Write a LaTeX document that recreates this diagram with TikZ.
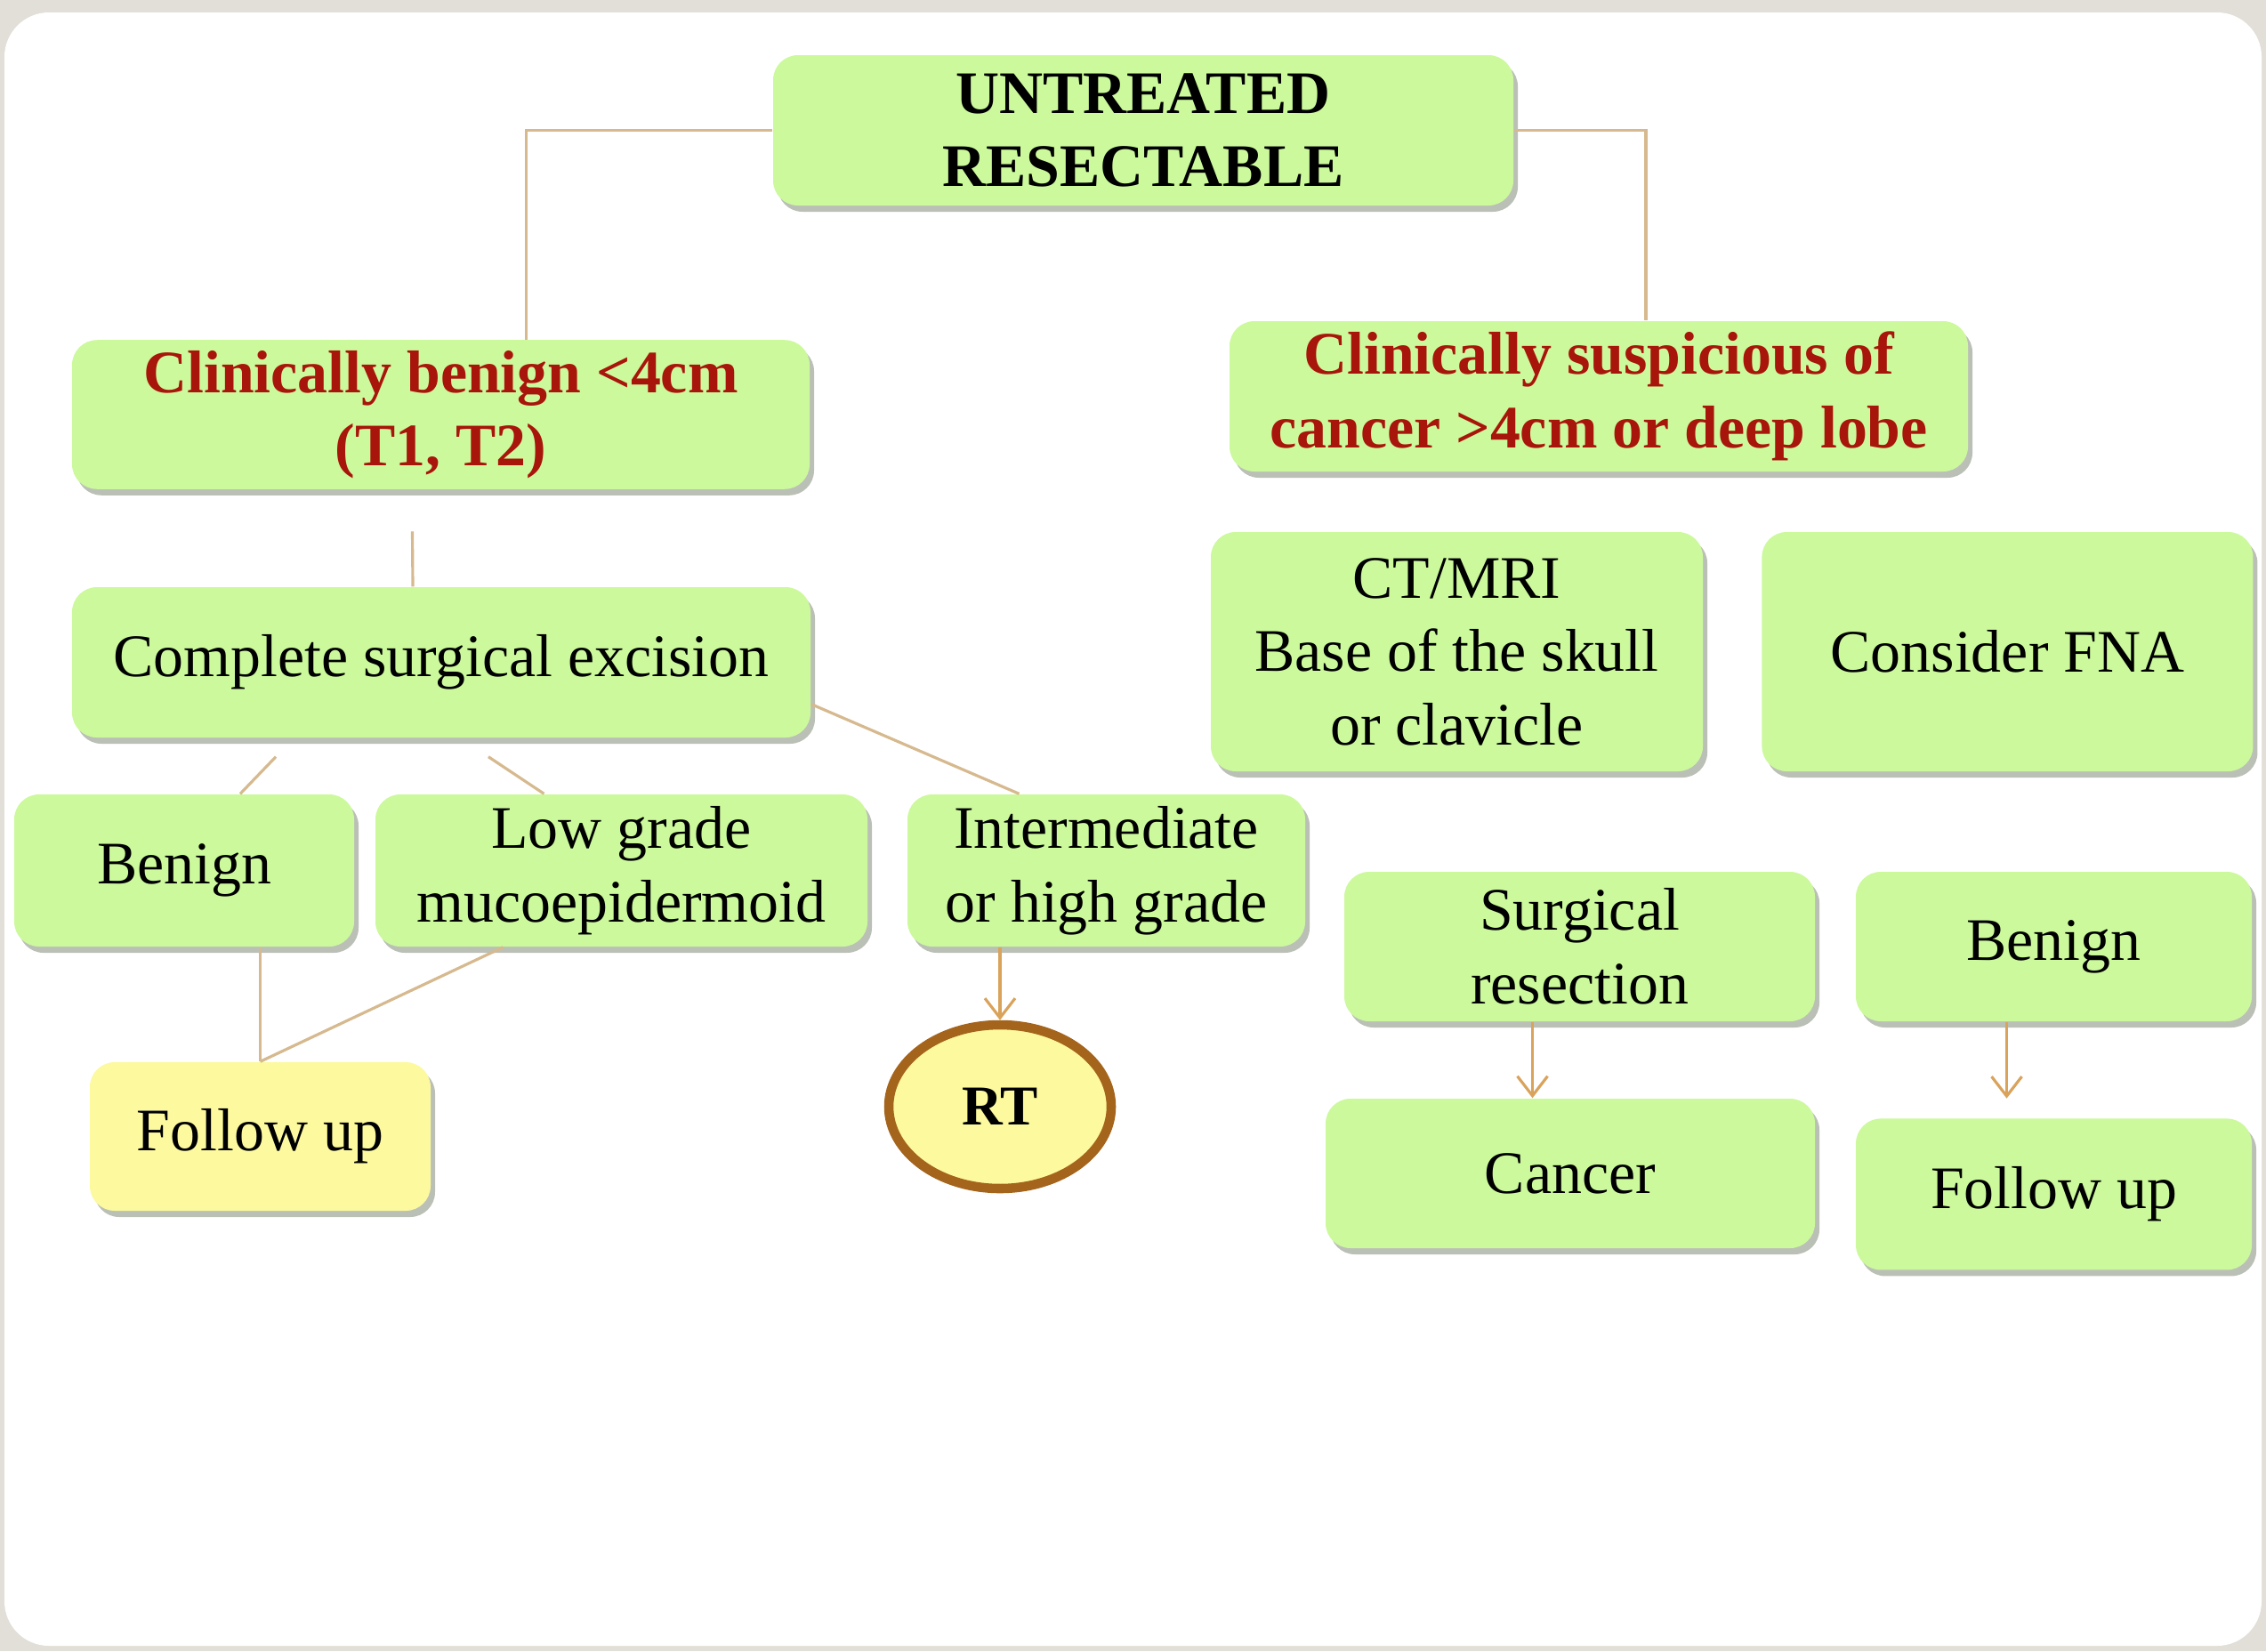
\documentclass[tikz,border=0pt]{standalone}
\usepackage{fontspec}
\setmainfont{Liberation Serif}
\usetikzlibrary{arrows.meta,positioning,shapes.geometric,shadows,calc}
\definecolor{flowGreen}{HTML}{CCF99C}
\definecolor{flowYellow}{HTML}{FCF99E}
\definecolor{flowRed}{HTML}{A8150A}
\definecolor{flowLink}{HTML}{D6B98E}
\definecolor{flowArrow}{HTML}{D9A35C}
\definecolor{flowRing}{HTML}{A4641C}
\definecolor{flowFrame}{HTML}{E2DFD8}
\tikzset{
  flow/base/.style={fill=flowGreen, rounded corners=0.28cm, align=center,
    font=\fontsize{19.3}{23.5}\selectfont, text=black,
    drop shadow={shadow xshift=0.05cm, shadow yshift=-0.07cm, opacity=0.35,
      fill=black!70!flowGreen}},
  flow/title/.style={flow/base, font=\fontsize{19.3}{23.5}\selectfont\bfseries},
  flow/branch/.style={flow/title, text=flowRed},
  flow/result/.style={flow/base, fill=flowYellow},
  flow/ring/.style={ellipse, draw=flowRing, line width=3pt, fill=flowYellow,
    minimum width=2.5cm, minimum height=1.84cm, inner sep=0pt,
    font=\fontsize{18}{22}\selectfont\bfseries},
  flow/link/.style={draw=flowLink, line width=0.9pt},
  flow/arrow/.style={-{Straight Barb[length=2.2mm,width=3.4mm]},
    draw=flowArrow, line width=0.9pt},
}

\begin{document}
\begin{tikzpicture}
% slide frame
\useasboundingbox (0,0) rectangle (25.47,-18.56);
\fill[flowFrame] (0,0) rectangle (25.47,-18.56);
\fill[white, rounded corners=0.5cm] (0.05,-0.14) rectangle (25.42,-18.5);

\node[flow/title, minimum width=8.32cm, minimum height=1.69cm] (untreated)
  at (12.85,-1.465) {UNTREATED\\RESECTABLE};
\node[flow/branch, minimum width=8.29cm, minimum height=1.66cm] (benign)
  at (4.955,-4.66) {Clinically benign <4cm\\(T1, T2)};
\node[flow/branch, minimum width=8.30cm, minimum height=1.69cm] (suspicious)
  at (17.97,-4.455) {Clinically suspicious of\\cancer >4cm or deep lobe};
\node[flow/base, minimum width=8.30cm, minimum height=1.69cm] (excision)
  at (4.96,-7.445) {Complete surgical excision};
\node[flow/base, minimum width=5.53cm, minimum height=2.69cm] (imaging)
  at (16.375,-7.325) {CT/MRI\\Base of the skull\\or clavicle};
\node[flow/base, minimum width=5.52cm, minimum height=2.69cm,
  right=0.65cm of imaging] (fna) {Consider FNA};
\node[flow/base, minimum width=3.82cm, minimum height=1.71cm] (benignL)
  at (2.07,-9.785) {Benign};
\node[flow/base, minimum width=5.53cm, minimum height=1.71cm] (lowgrade)
  at (6.985,-9.785) {Low grade\\mucoepidermoid};
\node[flow/base, minimum width=4.47cm, minimum height=1.71cm] (highgrade)
  at (12.435,-9.785) {Intermediate\\or high grade};
\node[flow/result, minimum width=3.83cm, minimum height=1.67cm] (followL)
  at (2.925,-12.775) {Follow up};
\node[flow/ring] (rt) at (11.24,-12.44) {RT};
\node[flow/base, minimum width=5.29cm, minimum height=1.68cm] (resection)
  at (17.755,-10.64) {Surgical\\resection};
\node[flow/base, minimum width=4.45cm, minimum height=1.68cm] (benignR)
  at (23.085,-10.64) {Benign};
\node[flow/base, minimum width=5.50cm, minimum height=1.68cm] (cancer)
  at (17.65,-13.19) {Cancer};
\node[flow/base, minimum width=4.45cm, minimum height=1.70cm,
  below=1.08cm of benignR] (followR) {Follow up};

% connectors
\draw[flow/link] (untreated.west) -| ([xshift=0.96cm]benign.north);
\draw[flow/link] (untreated.east) -| ([xshift=0.53cm]suspicious.north);
\draw[flow/link] ([xshift=-0.32cm,yshift=-0.47cm]benign.south)
  -- ([xshift=-0.32cm]excision.north);
\draw[flow/link] ([xshift=-1.86cm,yshift=-0.21cm]excision.south)
  -- ([xshift=0.63cm]benignL.north);
\draw[flow/link] ([xshift=0.53cm,yshift=-0.21cm]excision.south)
  -- ([xshift=-0.87cm]lowgrade.north);
\draw[flow/link] ([yshift=-0.47cm]excision.east)
  -- ([xshift=-0.98cm]highgrade.north);
\draw[flow/link] (benignL.south -| followL.north) -- (followL.north);
\draw[flow/link] ([xshift=-1.33cm]lowgrade.south) -- (followL.north);
\draw[flow/arrow] (highgrade.south -| rt.north) -- (rt.north);
\draw[flow/arrow] ([xshift=-0.53cm]resection.south)
  -- ([xshift=-0.53cm]resection.south |- cancer.north);
\draw[flow/arrow] ([xshift=-0.53cm]benignR.south)
  -- ([xshift=-0.53cm,yshift=0.22cm]benignR.south |- followR.north);
\end{tikzpicture}
\end{document}
